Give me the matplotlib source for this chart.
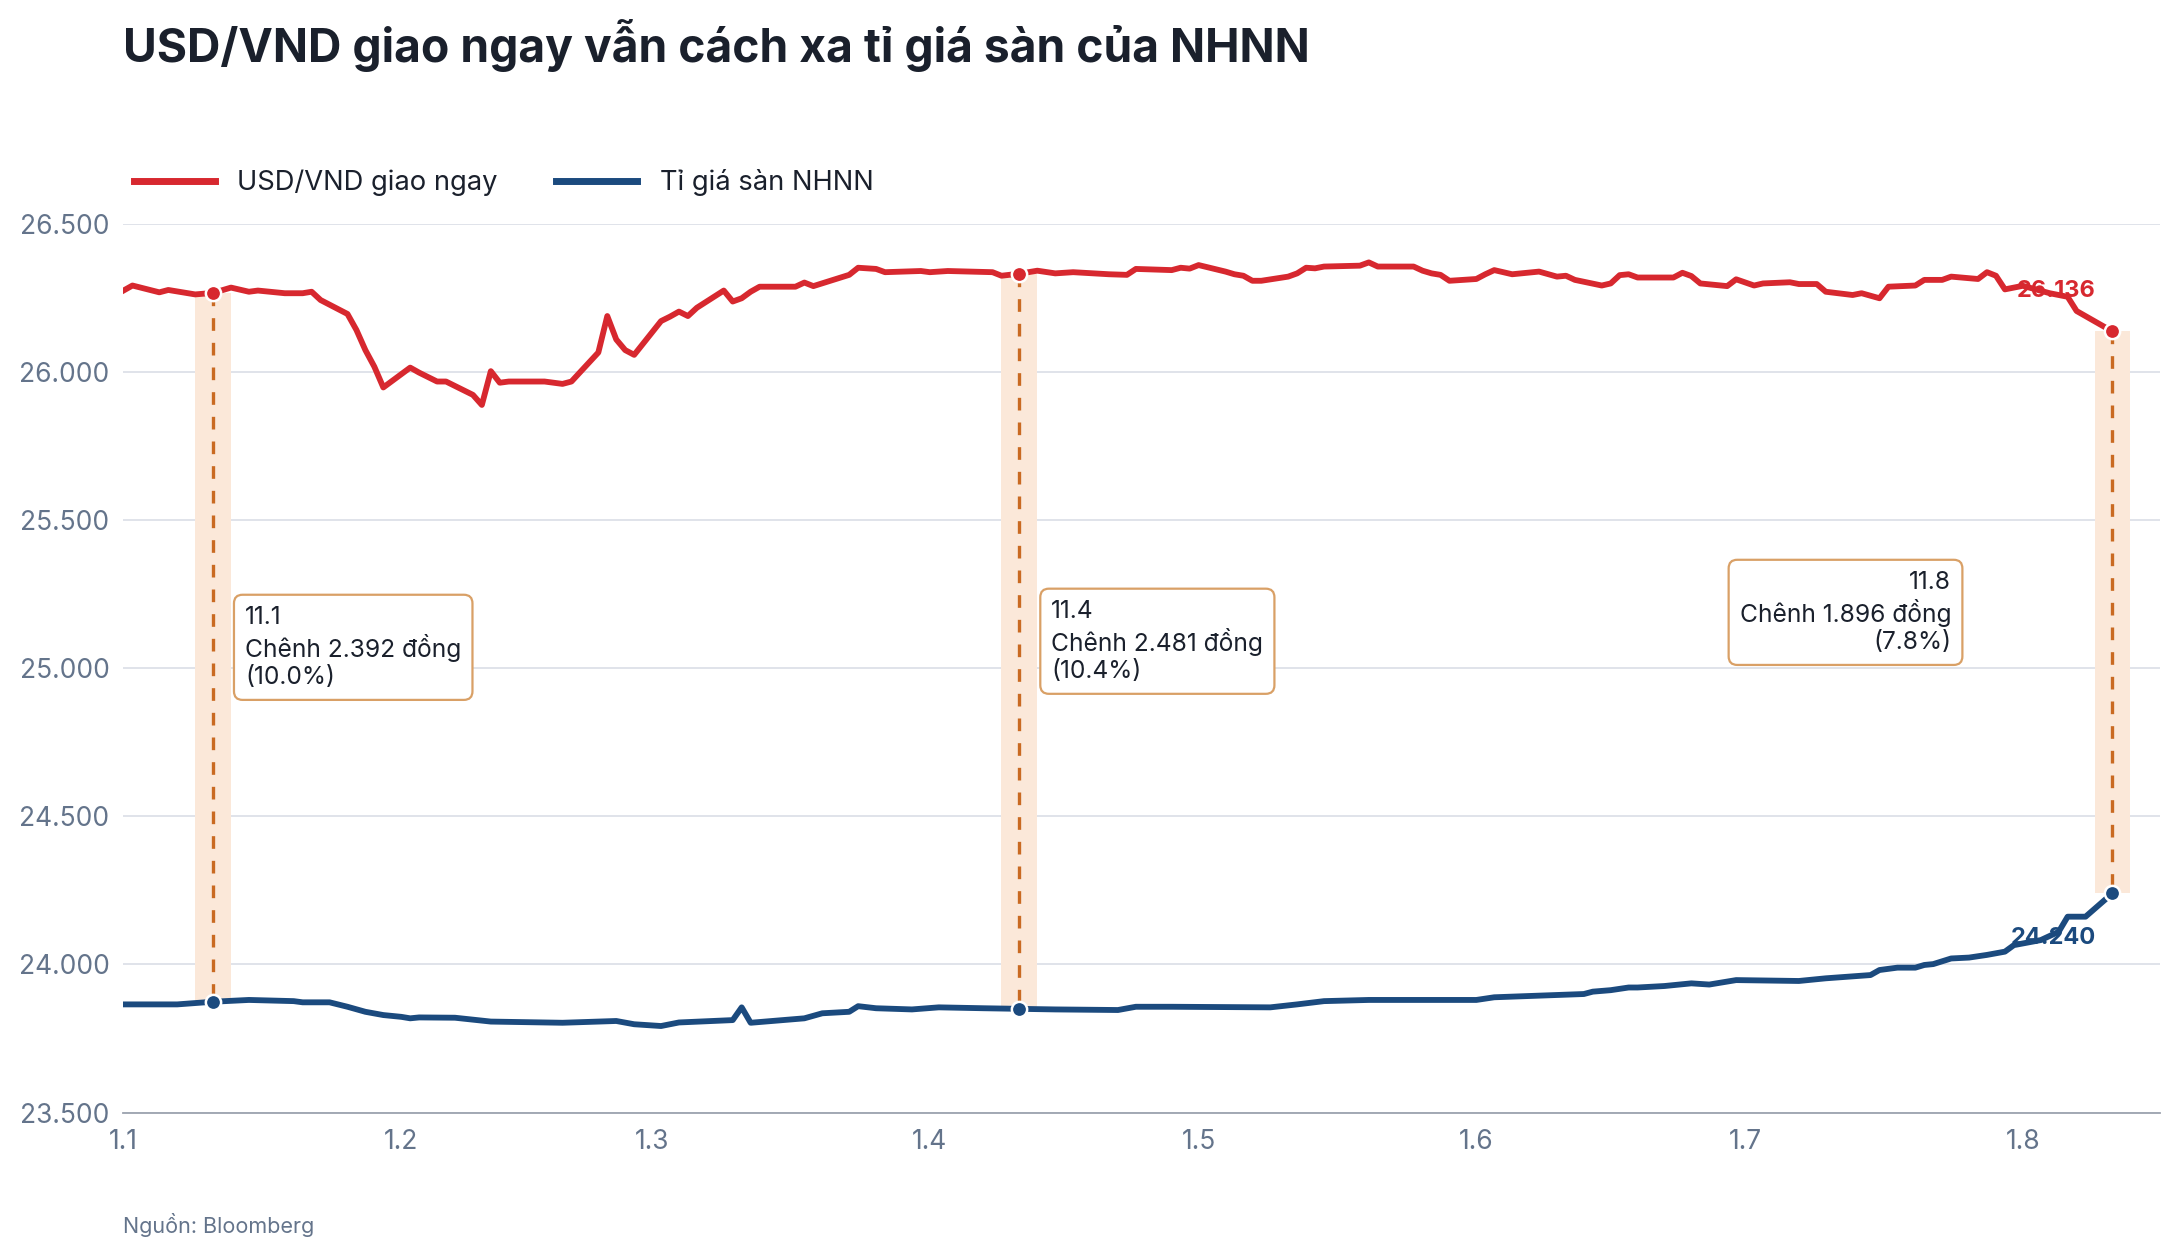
import numpy as np
import pandas as pd
import matplotlib
matplotlib.use("Agg")
import matplotlib.pyplot as plt

plt.rcParams['font.family'] = ['Inter', 'DejaVu Sans']

# ---------------- data (day offset from 1 Jan 2025, value) ----------------
BASE = pd.Timestamp("2025-01-01")

spot_days = [0, 1, 4, 5, 8, 10, 12, 14, 15, 18, 20, 21, 22, 25, 26, 27, 28, 29,
             32, 33, 35, 36, 39, 40, 41, 42, 43, 47, 49, 50, 53, 54, 55, 56, 57,
             60, 61, 62, 63, 64, 67, 68, 69, 70, 71, 75, 76, 77, 81, 82, 84, 85,
             89, 90, 92, 97, 98, 100, 102, 104, 106, 110, 112, 113, 117, 118,
             119, 120, 123, 124, 125, 126, 127, 130, 131, 132, 133, 134, 138,
             139, 140, 144, 145, 146, 147, 148, 151, 152, 153, 155, 158, 160,
             161, 162, 165, 166, 167, 168, 169, 173, 174, 175, 176, 179, 180,
             182, 183, 186, 187, 189, 190, 193, 194, 196, 197, 200, 201, 203,
             204, 207, 208, 209, 210, 212, 215, 217, 218, 222]
spot_vals = [26274, 26291, 26268, 26276, 26261, 26266, 26284, 26270, 26274,
             26265, 26265, 26270, 26242, 26195, 26141, 26073, 26017, 25947,
             26014, 25997, 25967, 25967, 25922, 25888, 26002, 25963, 25967,
             25967, 25959, 25967, 26065, 26188, 26109, 26073, 26057,
             26171, 26186, 26203, 26188, 26216, 26274, 26237, 26248, 26270,
             26287, 26287, 26301, 26289, 26327, 26351, 26347, 26336,
             26340, 26336, 26340, 26336, 26324, 26331, 26341, 26332, 26336,
             26329, 26327, 26347, 26343, 26351, 26348, 26360, 26338, 26329,
             26324, 26307, 26307, 26321, 26332, 26351, 26349, 26355, 26358,
             26369, 26355, 26355, 26341, 26332, 26327, 26307, 26313, 26329,
             26343, 26329, 26338, 26321, 26324, 26310, 26291, 26298, 26326,
             26329, 26318, 26318, 26334, 26323, 26298, 26289, 26312,
             26291, 26298, 26302, 26296, 26296, 26270, 26259, 26265, 26248,
             26287, 26291, 26310, 26310, 26321, 26313, 26336, 26324, 26278,
             26290, 26265, 26253, 26205, 26136]

floor_days = [0, 6, 10, 14, 19, 20, 23, 25, 27, 29, 31, 32, 33, 37, 41, 49, 55,
              57, 60, 62, 68, 69, 70, 76, 78, 81, 82, 84, 88, 91, 96, 100, 104,
              111, 113, 117, 128, 131, 134, 139, 151, 153, 163, 164, 166, 168,
              169, 172, 175, 177, 180, 187, 190, 195, 196, 198, 200, 201, 202,
              204, 206, 208, 210, 211, 214, 216, 217, 219, 222]
floor_vals = [23865, 23865, 23874, 23880, 23876, 23872, 23872, 23857, 23840,
              23829, 23823, 23818, 23821, 23820, 23807, 23803, 23809, 23798,
              23792, 23804, 23812, 23855, 23803, 23818, 23835, 23840, 23859,
              23852, 23848, 23855, 23852, 23850, 23848, 23846, 23857, 23857,
              23855, 23865, 23876, 23880, 23880, 23889, 23900, 23908, 23913,
              23922, 23922, 23927, 23936, 23932, 23947, 23944, 23953, 23964,
              23981, 23989, 23989, 23998, 24001, 24020, 24023, 24032, 24043,
              24065, 24082, 24110, 24161, 24161, 24240]

ann_days = [10, 100, 222]
ann_labels = ["11.1", "11.4", "11.8"]

series_names = ["USD/VND giao ngay", "Tỉ giá sàn NHNN"]
title = "USD/VND giao ngay vẫn cách xa tỉ giá sàn của NHNN"
source = "Nguồn: Bloomberg"
yticks = [23500, 24000, 24500, 25000, 25500, 26000, 26500]

# ---------------- style ----------------
RED = "#d7282f"
BLUE = "#1b4a7e"
DARK = "#1a202c"
GRAY = "#64748b"
GRID = "#dde1e8"
BAND = "#fbe8d9"
DASH = "#c96a22"
BOXEDGE = "#d9a066"


def fmt(v):
    return f"{v:,.0f}".replace(",", ".")


def to_dates(days):
    return BASE + pd.to_timedelta(np.asarray(days), unit="D")


spot_x = to_dates(spot_days)
floor_x = to_dates(floor_days)
spot_s = pd.Series(spot_vals, index=spot_days)
floor_s = pd.Series(floor_vals, index=floor_days)

fig = plt.figure(figsize=(21.78, 12.54), dpi=100)
ax = fig.add_axes([0.0567, 0.1128, 0.9350, 0.7089])

ax.plot(spot_x, spot_vals, color=RED, lw=4.2, solid_joinstyle="round", zorder=4,
        label=series_names[0])
ax.plot(floor_x, floor_vals, color=BLUE, lw=4.2, solid_joinstyle="round", zorder=4,
        label=series_names[1])

# annotations
offsets = [(23, "left"), (23, "left"), (-116, "right")]
for d, lab, (dx, ha) in zip(ann_days, ann_labels, offsets):
    hi = spot_s[d]
    lo = floor_s[d]
    xd = to_dates([d])[0]
    band_x = to_dates([d - 2, d + 2])
    ax.fill_between(band_x, [lo, lo], [hi, hi], color=BAND, lw=0, zorder=1)
    ax.plot([xd, xd], [hi, lo], color=DASH, lw=2.4, ls=(0, (3.8, 3.6)), zorder=3)
    ax.plot([xd], [hi], "o", color=RED, ms=11, mec="white", mew=1.8, zorder=6)
    ax.plot([xd], [lo], "o", color=BLUE, ms=11, mec="white", mew=1.8, zorder=6)
    diff = hi - lo
    pct = diff / lo * 100
    txt = f"{lab}\nChênh {fmt(diff)} đồng\n({pct:.1f}%)"
    ax.annotate(txt, xy=(xd, (hi + lo) / 2), xytext=(dx, 0),
                textcoords="offset points", ha=ha, va="center",
                multialignment=ha, fontsize=17.7, color=DARK, linespacing=1.22,
                zorder=7,
                bbox=dict(boxstyle="round,pad=0.45,rounding_size=0.35",
                          fc="white", ec=BOXEDGE, lw=1.6))

# end labels
end_x = spot_x[-1]
ax.annotate(fmt(spot_vals[-1]), xy=(end_x, spot_vals[-1]), xytext=(-12, 29),
            textcoords="offset points", ha="right", va="center",
            fontsize=17, fontweight="bold", color=RED, zorder=5)
ax.annotate(fmt(floor_vals[-1]), xy=(floor_x[-1], floor_vals[-1]),
            xytext=(-12, -32), textcoords="offset points", ha="right",
            va="center", fontsize=17, fontweight="bold", color=BLUE, zorder=5)

# axes
ax.set_xlim(BASE, BASE + pd.Timedelta(days=227.3))
ax.set_ylim(23500, 26500)
ax.set_yticks(yticks)
ax.set_yticklabels([fmt(v) for v in yticks])
months = pd.date_range(BASE, periods=8, freq="MS")
ax.set_xticks(months)
ax.set_xticklabels([f"1.{m.month}" for m in months])
ax.tick_params(axis="both", length=0, labelsize=19, labelcolor=GRAY)
ax.tick_params(axis="y", pad=10)
ax.tick_params(axis="x", pad=12)
ax.grid(axis="y", color=GRID, lw=1.3, zorder=0)
ax.set_axisbelow(True)
for s in ["left", "right", "top"]:
    ax.spines[s].set_visible(False)
ax.spines["bottom"].set_color("#9ca3af")
ax.spines["bottom"].set_linewidth(1.3)
ax.spines["bottom"].set_zorder(2)

# title, legend, source
fig.text(0.0565, 1 - 46 / 1254, title, fontsize=33.3, fontweight="bold",
         color=DARK, ha="left", va="center")
leg = fig.legend(loc="center left", bbox_to_anchor=(0.0615, 1 - 183 / 1254),
                 ncol=2, frameon=False, fontsize=19.7, handlelength=2.95,
                 handletextpad=0.82, columnspacing=2.15, borderpad=0,
                 borderaxespad=0)
for h in leg.get_lines():
    h.set_linewidth(5)
for t in leg.get_texts():
    t.set_color(DARK)
fig.text(0.0565, 1 - 1225 / 1254, source, fontsize=15.5, color=GRAY,
         ha="left", va="center")

fig.savefig("out.png", dpi=100)
